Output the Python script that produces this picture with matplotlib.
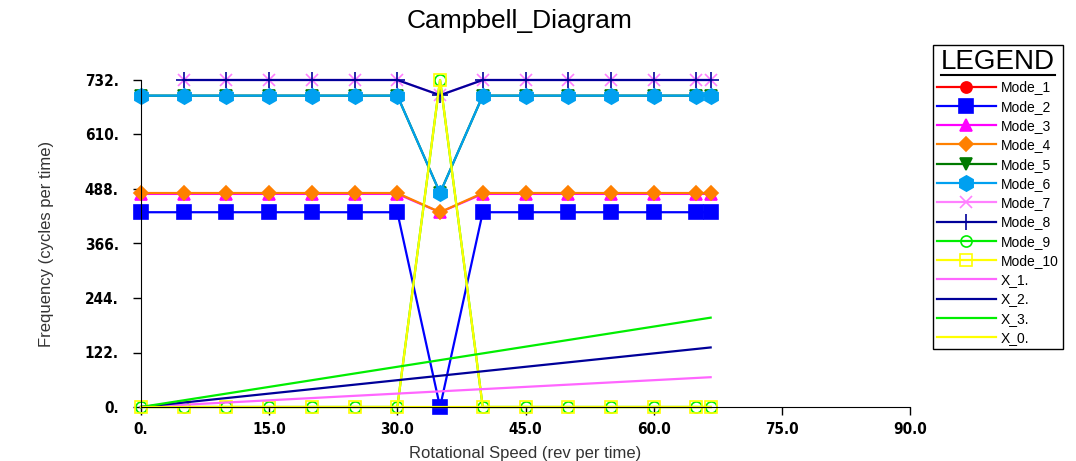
import numpy as np
import matplotlib
matplotlib.use("Agg")
import matplotlib.pyplot as plt
from matplotlib.lines import Line2D

nan = np.nan

# rotational speed samples
speed = [0.0, 5.0, 10.0, 15.0, 20.0, 25.0, 30.0, 35.0, 40.0, 45.0, 50.0, 55.0, 60.0, 65.0, 66.67]

# mode frequencies (Mode_1 has no visible points)
mode_1 = [nan, nan, nan, nan, nan, nan, nan, nan, nan, nan, nan, nan, nan, nan, nan]
mode_2 = [436, 436, 436, 436, 436, 436, 436, 0, 436, 436, 436, 436, 436, 436, 436]
mode_3 = [477, 477, 477, 477, 477, 477, 477, 436, 477, 477, 477, 477, 477, 477, 477]
mode_4 = [479, 479, 479, 479, 479, 479, 479, 436, 479, 479, 479, 479, 479, 479, 479]
mode_5 = [697, 697, 697, 697, 697, 697, 697, 479, 697, 697, 697, 697, 697, 697, 697]
mode_6 = [697, 697, 697, 697, 697, 697, 697, 479, 697, 697, 697, 697, 697, 697, 697]
mode_7 = [nan, 732, 732, 732, 732, 732, 732, 698, 732, 732, 732, 732, 732, 732, 732]
mode_8 = [nan, 732, 732, 732, 732, 732, 732, 698, 732, 732, 732, 732, 732, 732, 732]
mode_9 = [0, 0, 0, 0, 0, 0, 0, 732, 0, 0, 0, 0, 0, 0, 0]
mode_10 = [0, 0, 0, 0, 0, 0, 0, 732, 0, 0, 0, 0, 0, 0, 0]

# excitation order lines
order_speed = [0.0, 66.67]
x_1 = [0.0, 66.7]
x_2 = [0.0, 133.3]
x_3 = [0.0, 200.0]
x_0 = [0.0, 0.0]

y_ticks = [0, 122, 244, 366, 488, 610, 732]
y_tick_labels = ["0.", "122.", "244.", "366.", "488.", "610.", "732."]
x_ticks = [0, 15, 30, 45, 60, 75, 90]
x_tick_labels = ["0.", "15.0", "30.0", "45.0", "60.0", "75.0", "90.0"]

modes = [
    ("Mode_1", mode_1, "#ff0000", "o", True, 8),
    ("Mode_2", mode_2, "#0000ff", "s", True, 10),
    ("Mode_3", mode_3, "#ff00ff", "^", True, 9),
    ("Mode_4", mode_4, "#ff8000", "D", True, 7),
    ("Mode_5", mode_5, "#007a00", "v", True, 9),
    ("Mode_6", mode_6, "#00a0f0", "h", True, 11),
    ("Mode_7", mode_7, "#ff80ff", "x", True, 9),
    ("Mode_8", mode_8, "#000099", "+", True, 11),
    ("Mode_9", mode_9, "#00ee00", "o", False, 8),
    ("Mode_10", mode_10, "#ffff00", "s", False, 9),
]
orders = [
    ("X_1.", x_1, "#ff66ff"),
    ("X_2.", x_2, "#000099"),
    ("X_3.", x_3, "#00ee00"),
    ("X_0.", x_0, "#ffff00"),
]

plt.rcParams['font.family'] = ['Liberation Sans', 'DejaVu Sans']

fig = plt.figure(figsize=(10.76, 4.61), dpi=100)
ax = fig.add_axes([141 / 1076, 1 - 407 / 461, 769 / 1076, 327 / 461])

handles = []
for name, vals, color, marker, filled, ms in modes:
    face = color if filled else "none"
    h, = ax.plot(speed, vals, color=color, linewidth=1.6, marker=marker,
                 markersize=ms, markerfacecolor=face, markeredgecolor=color,
                 markeredgewidth=1.2, clip_on=False, label=name)
    handles.append(h)

for name, vals, color in orders:
    h, = ax.plot(order_speed, vals, color=color, linewidth=1.6,
                 clip_on=False, label=name)
    handles.append(h)

ax.set_xlim(0, 90)
ax.set_ylim(0, 732)
ax.spines['top'].set_visible(False)
ax.spines['right'].set_visible(False)
ax.set_yticks(y_ticks)
ax.set_yticklabels(y_tick_labels)
ax.set_xticks(x_ticks)
ax.set_xticklabels(x_tick_labels)
ax.tick_params(direction='out', length=6, width=1)
ax.tick_params(axis='y', pad=10)
ax.tick_params(axis='x', pad=5)
for lab in ax.get_xticklabels() + ax.get_yticklabels():
    lab.set_family('DejaVu Sans')
    lab.set_fontweight('bold')
    lab.set_fontstretch('condensed')
    lab.set_fontsize(11)

ax.set_xlabel('Rotational Speed (rev per time)', fontsize=12, color='#333333',
              labelpad=6)
ax.set_ylabel('Frequency (cycles per time)', fontsize=12, color='#333333',
              labelpad=22)
fig.text(520 / 1076, 1 - 21 / 461, 'Campbell_Diagram', fontsize=19,
         ha='center', va='center')

leg = fig.legend(handles=handles, loc='upper left',
                 bbox_to_anchor=(933 / 1076, 1 - 45 / 461),
                 bbox_transform=fig.transFigure, borderaxespad=0,
                 fontsize=10, title='LEGEND', title_fontsize=20,
                 handlelength=4.2, handletextpad=0.4, labelspacing=0.38,
                 fancybox=False, framealpha=1, edgecolor='black',
                 borderpad=0.3, markerscale=1.0)
leg.get_frame().set_linewidth(1.0)

# underline the legend title
fig.canvas.draw()
bb = leg.get_title().get_window_extent().transformed(fig.transFigure.inverted())
fig.add_artist(Line2D([bb.x0, bb.x1], [bb.y0 + 0.001, bb.y0 + 0.001],
                      color='black', linewidth=1.5, transform=fig.transFigure,
                      zorder=20))

fig.savefig('out.png', dpi=100)
